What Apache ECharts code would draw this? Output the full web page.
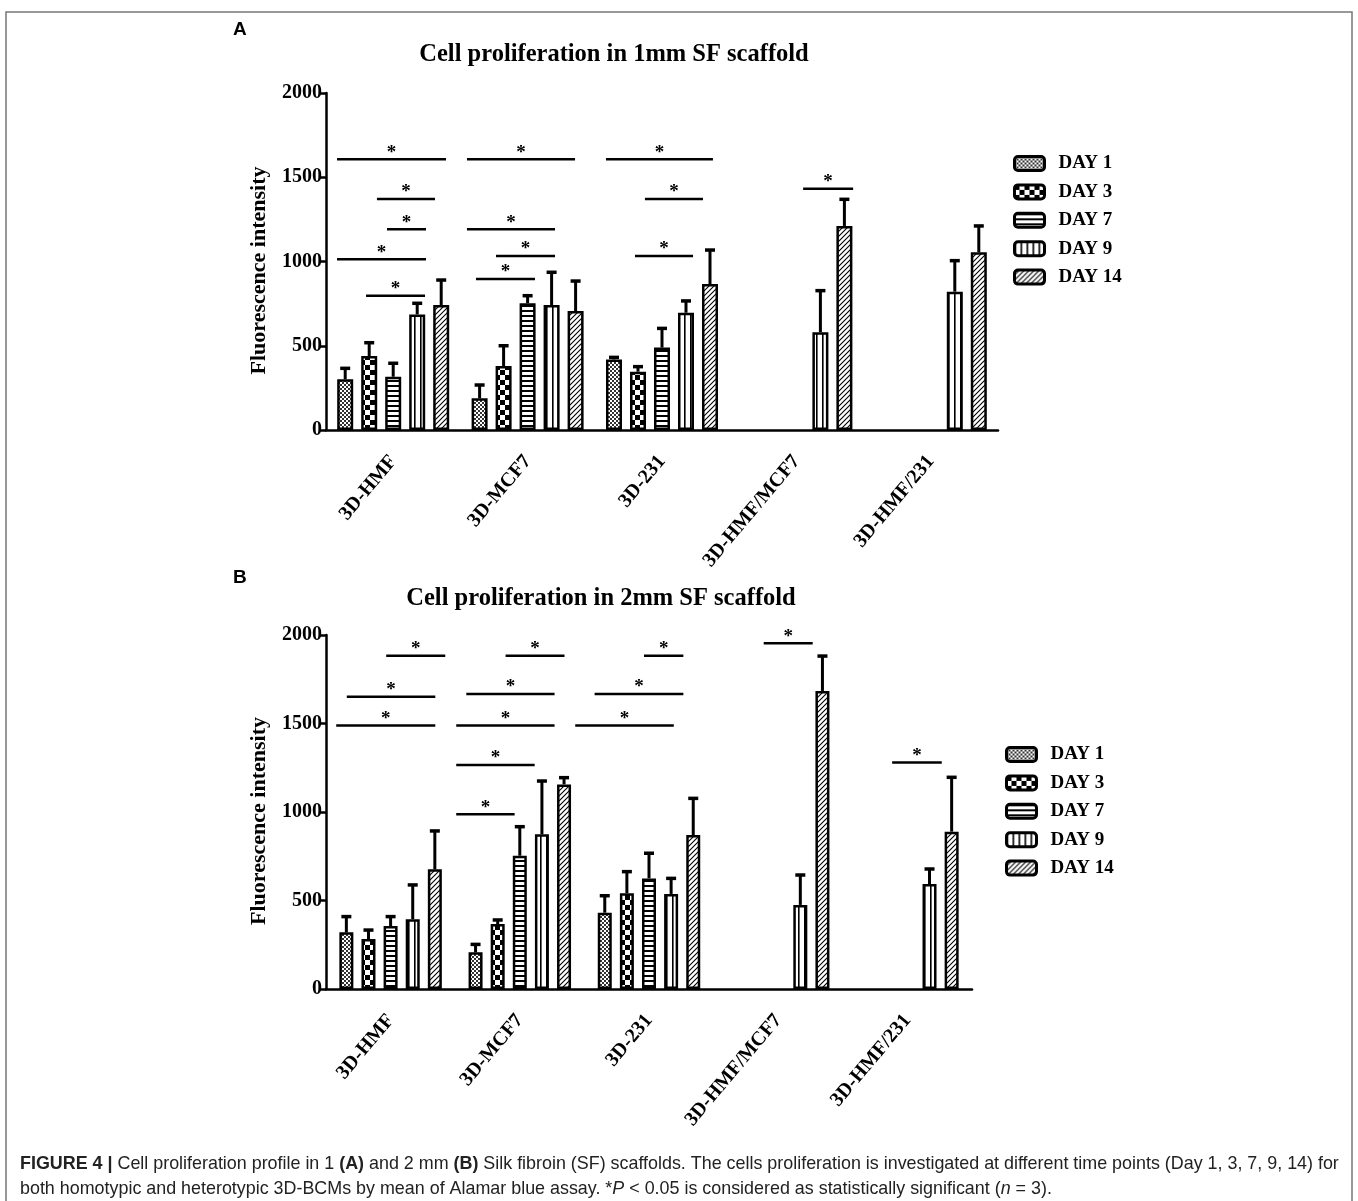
<!DOCTYPE html>
<html><head><meta charset="utf-8">
<script src="https://cdn.jsdelivr.net/npm/echarts@6/dist/echarts.min.js"></script>
<style>html,body{margin:0;padding:0;background:#fff}#c{width:1358px;height:1201px}</style>
</head><body><div id="c"></div>
<script>
// ---------- data ----------
const categories = ['3D-HMF', '3D-MCF7', '3D-231', '3D-HMF/MCF7', '3D-HMF/231'];
const seriesNames = ['DAY 1', 'DAY 3', 'DAY 7', 'DAY 9', 'DAY 14'];
const yTicks = [0, 500, 1000, 1500, 2000];

// Panel A: 1 mm SF scaffold (mean values and upper SD)
const a_day1 = [301, 188, 419, null, null];
const a_day3 = [439, 380, 346, null, null];
const a_day7 = [316, 752, 489, null, null];
const a_day9 = [686, 742, 696, 580, 821];
const a_day14 = [742, 706, 866, 1211, 1055];
const a_day1_sd = [65, 79, 12, null, null];
const a_day3_sd = [79, 120, 30, null, null];
const a_day7_sd = [80, 45, 114, null, null];
const a_day9_sd = [66, 194, 70, 247, 184];
const a_day14_sd = [148, 178, 202, 158, 156];
// significance lines: [from (category units), to (category units), level]
const a_sig = [
  [-0.418, 0.393, 1607], [-0.121, 0.311, 1371], [-0.046, 0.244, 1191],
  [-0.418, 0.244, 1013], [-0.202, 0.237, 797],
  [0.549, 1.353, 1607], [0.549, 1.204, 1191], [0.765, 1.204, 1033], [0.616, 1.055, 896],
  [1.583, 2.379, 1607], [1.873, 2.305, 1371], [1.799, 2.231, 1033],
  [3.050, 3.422, 1432]
];

// Panel B: 2 mm SF scaffold
const b_day1 = [320, 207, 431, null, null];
const b_day3 = [282, 367, 541, null, null];
const b_day7 = [356, 753, 625, null, null];
const b_day9 = [394, 874, 537, 475, 593];
const b_day14 = [676, 1156, 870, 1684, 889];
const b_day1_sd = [89, 45, 96, null, null];
const b_day3_sd = [51, 23, 122, null, null];
const b_day7_sd = [53, 164, 142, null, null];
const b_day9_sd = [194, 301, 88, 169, 85];
const b_day14_sd = [217, 38, 207, 197, 307];
const b_sig = [
  [-0.034, 0.423, 1883], [-0.339, 0.346, 1651], [-0.421, 0.346, 1488],
  [0.890, 1.346, 1883], [0.586, 1.269, 1667], [0.508, 1.269, 1488],
  [0.508, 1.115, 1266], [0.508, 0.960, 987],
  [1.961, 2.266, 1883], [1.579, 2.266, 1667], [1.429, 2.192, 1488],
  [2.888, 3.267, 1953], [3.882, 4.266, 1279]
];

const panelA = [a_day1, a_day3, a_day7, a_day9, a_day14];
const panelA_sd = [a_day1_sd, a_day3_sd, a_day7_sd, a_day9_sd, a_day14_sd];
const panelB = [b_day1, b_day3, b_day7, b_day9, b_day14];
const panelB_sd = [b_day1_sd, b_day3_sd, b_day7_sd, b_day9_sd, b_day14_sd];

// ---------- patterns ----------
function pattern(kind) {
  const c = document.createElement('canvas');
  const ctx = c.getContext('2d');
  let w = 4, h = 4;
  if (kind === 0) { w = 4; h = 4; }
  if (kind === 1) { w = 10; h = 10; }
  if (kind === 2) { w = 6; h = 5; }
  if (kind === 3) { w = 6; h = 6; }
  if (kind === 4) { w = 5; h = 5; }
  c.width = w; c.height = h;
  ctx.fillStyle = '#fff'; ctx.fillRect(0, 0, w, h);
  ctx.fillStyle = '#000'; ctx.strokeStyle = '#000';
  if (kind === 0) { ctx.fillStyle = '#333'; ctx.fillRect(0, 0, 2, 2); ctx.fillRect(2, 2, 2, 2); }
  if (kind === 1) { ctx.fillRect(0, 0, 5, 5); ctx.fillRect(5, 5, 5, 5); }
  if (kind === 2) { ctx.fillRect(0, 0, w, 2); }
  if (kind === 3) { ctx.fillRect(0, 0, 1.6, h); }
  if (kind === 4) {
    ctx.lineWidth = 1.1;
    ctx.beginPath();
    ctx.moveTo(-1, h + 1); ctx.lineTo(w + 1, -1);
    ctx.moveTo(-1, 1); ctx.lineTo(1, -1);
    ctx.moveTo(w - 1, h + 1); ctx.lineTo(w + 1, h - 1);
    ctx.stroke();
  }
  return { image: c, repeat: 'repeat' };
}
const fills = [0, 1, 2, 3, 4].map(pattern);

// ---------- layout ----------
const SERIF = '"Liberation Serif", "Times New Roman", serif';
const SANS = '"Liberation Sans", Arial, sans-serif';
const panels = [
  { grid: { left: 326, top: 93, width: 672, height: 337 }, barWidth: 16, barGap: 0.5,
    vals: panelA, sds: panelA_sd, sig: a_sig },
  { grid: { left: 326, top: 635, width: 646, height: 354 }, barWidth: 14, barGap: 0.58,
    vals: panelB, sds: panelB_sd, sig: b_sig }
];

const grids = [], xAxes = [], yAxes = [], series = [];
panels.forEach((p, pi) => {
  grids.push(p.grid);
  xAxes.push({
    type: 'category', gridIndex: pi, data: categories,
    axisLine: { lineStyle: { color: '#000', width: 2.5 } },
    axisTick: { alignWithLabel: true, length: 10, lineStyle: { color: '#000', width: 2.5 } },
    axisLabel: { interval: 0, rotate: 50, margin: 28, color: '#000',
      fontFamily: SERIF, fontWeight: 'bold', fontSize: 20 }
  });
  yAxes.push({
    type: 'value', gridIndex: pi, min: yTicks[0], max: yTicks[yTicks.length - 1], interval: yTicks[1] - yTicks[0],
    name: 'Fluorescence intensity', nameLocation: 'middle', nameGap: 56,
    nameTextStyle: { fontFamily: SERIF, fontWeight: 'bold', fontSize: 22, color: '#000', padding: [0, 18, 0, 0] },
    axisLine: { show: true, lineStyle: { color: '#000', width: 2.5 } },
    axisTick: { show: true, length: 7, lineStyle: { color: '#000', width: 2.5 } },
    axisLabel: { margin: 4, color: '#000', fontFamily: SERIF, fontWeight: 'bold', fontSize: 20,
      formatter: v => String(v) },
    splitLine: { show: false }
  });
  const pitch = p.barWidth * (1 + p.barGap);
  p.vals.forEach((arr, si) => {
    series.push({
      type: 'bar', name: seriesNames[si], xAxisIndex: pi, yAxisIndex: pi,
      data: arr, barWidth: p.barWidth, barGap: (p.barGap * 100) + '%',
      itemStyle: { color: fills[si], borderColor: '#000', borderWidth: 2.5 },
      emphasis: { disabled: true }, z: 3
    });
  });
  // error bars
  const errData = [];
  p.vals.forEach((arr, si) => arr.forEach((v, ci) => {
    if (v != null) errData.push([ci, v, p.sds[si][ci], si]);
  }));
  series.push({
    type: 'custom', xAxisIndex: pi, yAxisIndex: pi, data: errData, z: 2, silent: true,
    encode: { x: 0, y: 1 },
    renderItem: (params, api) => {
      const c = api.coord([api.value(0), api.value(1)]);
      const t = api.coord([api.value(0), api.value(1) + api.value(2)]);
      const x = c[0] + (api.value(3) - 2) * pitch;
      return { type: 'group', children: [
        { type: 'line', shape: { x1: x, y1: c[1], x2: x, y2: t[1] }, style: { stroke: '#000', lineWidth: 3 } },
        { type: 'line', shape: { x1: x - 5, y1: t[1], x2: x + 5, y2: t[1] }, style: { stroke: '#000', lineWidth: 3.5 } }
      ] };
    }
  });
  // significance bars
  series.push({
    type: 'custom', xAxisIndex: pi, yAxisIndex: pi, z: 4, silent: true,
    data: p.sig.map(s => [0, s[2], s[0], s[1]]),
    encode: { x: 0, y: 1 },
    renderItem: (params, api) => {
      const p0 = api.coord([0, api.value(1)]);
      const p1 = api.coord([1, api.value(1)]);
      const band = p1[0] - p0[0];
      const xa = p0[0] + api.value(2) * band;
      const xb = p0[0] + api.value(3) * band;
      const y = p0[1];
      return { type: 'group', children: [
        { type: 'line', shape: { x1: xa, y1: y, x2: xb, y2: y }, style: { stroke: '#000', lineWidth: 2.5 } },
        { type: 'text', x: (xa + xb) / 2, y: y + 3, style: { text: '*', fill: '#000',
          font: 'bold 19px ' + SERIF, textAlign: 'center', textVerticalAlign: 'bottom' } }
      ] };
    }
  });
});

const legendBase = {
  orient: 'vertical', data: seriesNames, icon: 'roundRect', itemWidth: 30, itemHeight: 14,
  itemGap: 9.4, selectedMode: false, padding: 0,
  itemStyle: { borderColor: '#000', borderWidth: 3 },
  textStyle: { fontFamily: SERIF, fontWeight: 'bold', fontSize: 19, color: '#000', padding: [0, 0, 0, 9] }
};

const option = {
  animation: false,
  backgroundColor: '#fff',
  grid: grids, xAxis: xAxes, yAxis: yAxes, series: series,
  legend: [
    Object.assign({}, legendBase, { left: 1013, top: 154 }),
    Object.assign({}, legendBase, { left: 1005, top: 745 })
  ],
  graphic: [
    { type: 'rect', shape: { x: 6, y: 12, width: 1346, height: 1300 }, style: { fill: 'none', stroke: '#777', lineWidth: 1.5 }, silent: true },
    { type: 'text', x: 233, y: 30, style: { text: 'A', font: 'bold 19px ' + SANS, fill: '#000', textVerticalAlign: 'middle' } },
    { type: 'text', x: 614, y: 55, style: { text: 'Cell proliferation in 1mm SF scaffold', font: 'bold 24.5px ' + SERIF, fill: '#000', textAlign: 'center', textVerticalAlign: 'middle' } },
    { type: 'text', x: 233, y: 578, style: { text: 'B', font: 'bold 19px ' + SANS, fill: '#000', textVerticalAlign: 'middle' } },
    { type: 'text', x: 601, y: 599, style: { text: 'Cell proliferation in 2mm SF scaffold', font: 'bold 24.5px ' + SERIF, fill: '#000', textAlign: 'center', textVerticalAlign: 'middle' } },
    { type: 'text', x: 20, y: 1164, style: {
      text: '{b|FIGURE 4 |} Cell proliferation profile in 1 {b|(A)} and 2 mm {b|(B)} Silk fibroin (SF) scaffolds. The cells proliferation is investigated at different time points (Day 1, 3, 7, 9, 14) for',
      font: '17.9px ' + SANS, fill: '#222', textVerticalAlign: 'middle',
      rich: { b: { fontFamily: SANS, fontWeight: 'bold', fontSize: 17.9, fill: '#222' } } } },
    { type: 'text', x: 20, y: 1189, style: {
      text: 'both homotypic and heterotypic 3D-BCMs by mean of Alamar blue assay. *{i|P} < 0.05 is considered as statistically significant ({i|n} = 3).',
      font: '17.9px ' + SANS, fill: '#222', textVerticalAlign: 'middle',
      rich: { i: { fontFamily: SANS, fontStyle: 'italic', fontSize: 17.9, fill: '#222' } } } }
  ]
};

const chart = echarts.init(document.getElementById('c'), null, { renderer: 'canvas' });
chart.setOption(option);
</script>
</body></html>
